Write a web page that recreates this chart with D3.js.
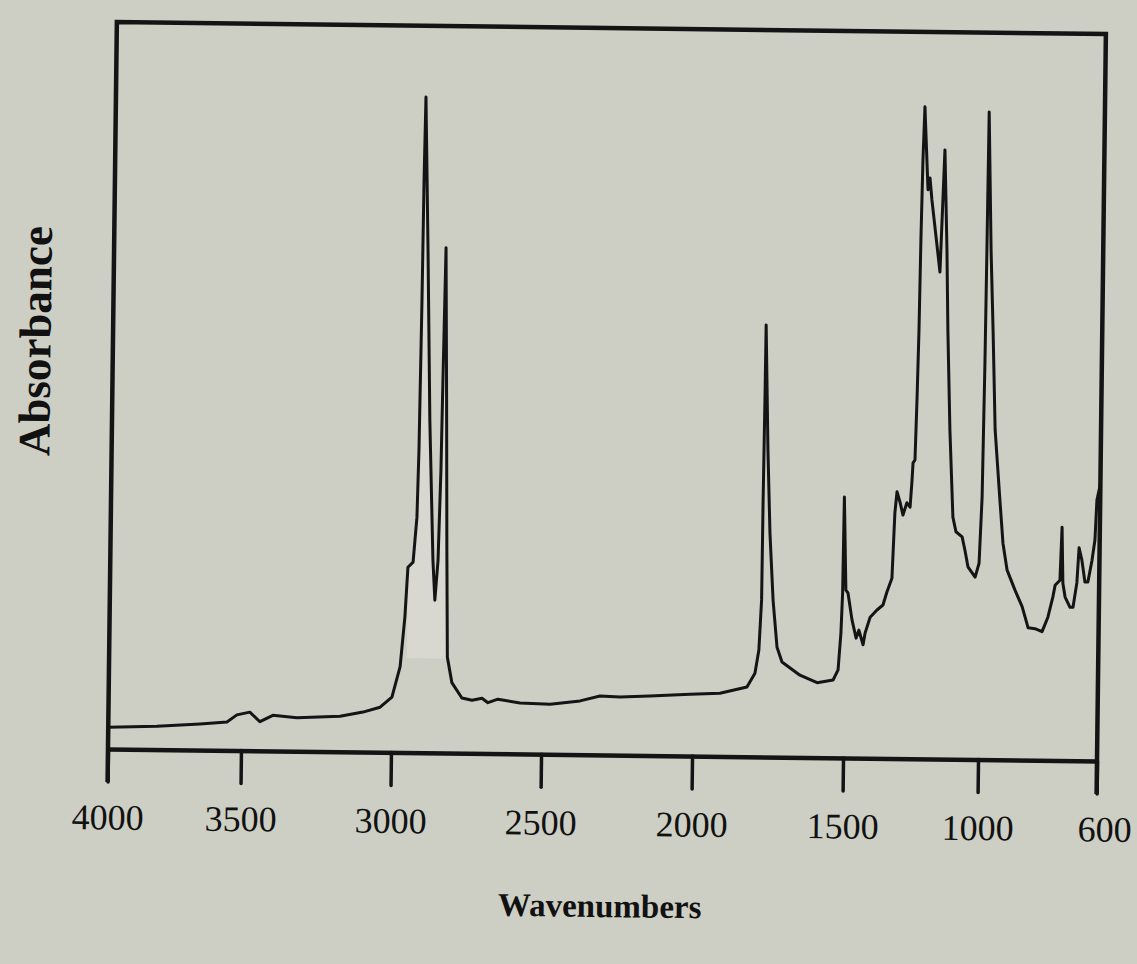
<!DOCTYPE html>
<html>
<head>
<meta charset="utf-8">
<script src="https://cdn.jsdelivr.net/npm/d3@7"></script>
<style>
  html, body { margin: 0; padding: 0; background: #cdcec4; }
  svg { display: block; }
</style>
</head>
<body>
<svg id="chart" width="1137" height="964"></svg>
<script>
// ---- data ----
const tickValues = [4000, 3500, 3000, 2500, 2000, 1500, 1000, 600];
const tickLabels = ["4000", "3500", "3000", "2500", "2000", "1500", "1000", "600"];
const xTitle = "Wavenumbers";
const yTitle = "Absorbance";

const wavenumbers = [
  4000, 3817, 3655, 3554, 3517, 3472, 3438, 3395, 3315, 3171, 3095, 3038,
  2999, 2973, 2959, 2951, 2934, 2923, 2919, 2915, 2913, 2910, 2897, 2884,
  2868, 2860, 2851, 2845, 2842, 2837, 2829, 2822, 2816, 2800, 2766, 2732,
  2699, 2679, 2646, 2572, 2472, 2373, 2307, 2241, 2142, 2009, 1910, 1821,
  1795, 1783, 1776, 1775, 1773, 1772, 1761, 1751, 1738, 1723, 1706, 1646,
  1589, 1536, 1520, 1512, 1508, 1506, 1497, 1489, 1473, 1457, 1447, 1431,
  1424, 1406, 1381, 1359, 1345, 1327, 1319, 1312, 1300, 1289, 1275, 1263,
  1257, 1254, 1247, 1242, 1238, 1235, 1231, 1226, 1211, 1204, 1196, 1163,
  1150, 1138, 1131, 1119, 1104, 1092, 1069, 1058, 1046, 1019, 1005, 997,
  993, 991, 989, 977, 967, 956, 937, 925, 910, 883, 858, 837,
  814, 790, 771, 755, 748, 732, 727, 722, 714, 697, 687, 675,
  669, 659, 648, 638, 625, 616, 611, 604, 600
];
const absorbance = [
  0.030, 0.032, 0.036, 0.039, 0.049, 0.053, 0.040, 0.049, 0.046, 0.049, 0.055, 0.062,
  0.076, 0.118, 0.187, 0.255, 0.262, 0.324, 0.416, 0.623, 0.788, 0.902, 0.692, 0.458,
  0.265, 0.210, 0.265, 0.389, 0.513, 0.695, 0.486, 0.279, 0.132, 0.097, 0.076, 0.073,
  0.076, 0.070, 0.075, 0.070, 0.069, 0.074, 0.081, 0.080, 0.082, 0.085, 0.087, 0.096,
  0.115, 0.147, 0.216, 0.353, 0.491, 0.594, 0.422, 0.308, 0.216, 0.151, 0.131, 0.113,
  0.103, 0.107, 0.121, 0.172, 0.227, 0.359, 0.231, 0.227, 0.190, 0.165, 0.176, 0.156,
  0.172, 0.194, 0.204, 0.211, 0.229, 0.248, 0.338, 0.367, 0.352, 0.335, 0.352, 0.346,
  0.383, 0.407, 0.411, 0.498, 0.590, 0.714, 0.824, 0.897, 0.783, 0.799, 0.769, 0.670,
  0.838, 0.700, 0.590, 0.453, 0.333, 0.313, 0.306, 0.288, 0.265, 0.251, 0.270, 0.361,
  0.546, 0.701, 0.891, 0.701, 0.591, 0.454, 0.357, 0.298, 0.261, 0.234, 0.211, 0.182,
  0.181, 0.177, 0.197, 0.225, 0.241, 0.248, 0.321, 0.244, 0.225, 0.211, 0.211, 0.245,
  0.293, 0.276, 0.246, 0.246, 0.276, 0.304, 0.359, 0.373, 0.380
];

// ---- drawing ----
const svg = d3.select("#chart");
const W = 1137, H = 964;
const ink = "#141414";

svg.append("rect").attr("width", W).attr("height", H).attr("fill", "#cdcec4");

// the scanned page is slightly tilted
const g = svg.append("g").attr("transform", "rotate(0.7, 606, 390)");

// x axis of the original plot is not uniformly spaced – use a piecewise scale through the ticks
const x = d3.scaleLinear()
  .domain(tickValues)
  .range([112.4, 245.4, 395.4, 545.5, 696.5, 847.5, 982.5, 1101.5]);
const y = d3.scaleLinear().domain([0, 1]).range([755, 28]);

const points = wavenumbers.map((w, i) => ({ w, a: absorbance[i] }));

// faint scan halo between the C-H peaks
const halo = points.filter(p => p.w <= 2951 && p.w >= 2816);
g.append("path")
  .datum(halo)
  .attr("fill", "#d8d8d0")
  .attr("stroke", "none")
  .attr("d", d3.area().x(d => x(d.w)).y0(y(0.13)).y1(d => Math.max(y(d.a), y(0.9))));

// axis
const tickLen = 33;
const axis = d3.axisBottom(x)
  .tickValues(tickValues)
  .tickFormat((d, i) => tickLabels[i])
  .tickSize(tickLen)
  .tickSizeOuter(0)
  .tickPadding(22);

const ax = g.append("g").attr("transform", `translate(0, ${y(0)})`).call(axis);
ax.select(".domain").attr("stroke", ink).attr("stroke-width", 4.5);
ax.selectAll(".tick line").attr("stroke", ink).attr("stroke-width", 3.5).attr("stroke-linecap", "round");
ax.selectAll(".tick text")
  .attr("fill", "#111")
  .attr("font-family", "'Liberation Serif', 'Times New Roman', serif")
  .attr("font-size", 36)
  .attr("dx", d => d === 600 ? 8 : 0);

// frame: top, left and right
g.append("path")
  .attr("fill", "none")
  .attr("stroke", ink)
  .attr("stroke-width", 4.5)
  .attr("stroke-linejoin", "miter")
  .attr("d", `M${x(4000)},${y(0) + tickLen} L${x(4000)},${y(1)} L${x(600)},${y(1)} L${x(600)},${y(0) + tickLen}`);

// spectrum
g.append("path")
  .datum(points)
  .attr("fill", "none")
  .attr("stroke", ink)
  .attr("stroke-width", 3)
  .attr("stroke-linejoin", "round")
  .attr("d", d3.line().x(d => x(d.w)).y(d => y(d.a)));

// titles
g.append("text")
  .attr("x", 606).attr("y", 917)
  .attr("text-anchor", "middle")
  .attr("font-family", "'Liberation Serif', 'Times New Roman', serif")
  .attr("font-weight", "bold")
  .attr("font-size", 33)
  .attr("fill", "#111")
  .text(xTitle);

g.append("text")
  .attr("transform", "translate(50, 348) rotate(-90)")
  .attr("text-anchor", "middle")
  .attr("font-family", "'Liberation Serif', 'Times New Roman', serif")
  .attr("font-weight", "bold")
  .attr("font-size", 45)
  .attr("fill", "#111")
  .text(yTitle);
</script>
</body>
</html>
